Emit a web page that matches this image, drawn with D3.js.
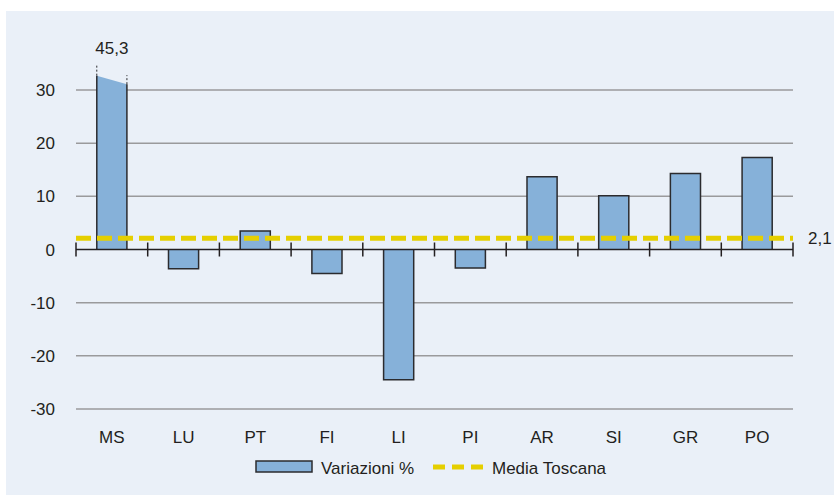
<!DOCTYPE html>
<html>
<head>
  <meta charset="utf-8">
  <script src="https://d3js.org/d3.v7.min.js"></script>
  <style>
    body { margin: 0; background: #fff; }
    text { font-family: 'Liberation Sans Narrow', 'Liberation Sans', Arial, sans-serif; fill: #231f20; }
  </style>
</head>
<body>
  <div class="chart"></div>
  <script>
    var categories = ["MS", "LU", "PT", "FI", "LI", "PI", "AR", "SI", "GR", "PO"];
    var values = [45.3, -3.6, 3.5, -4.5, -24.5, -3.5, 13.7, 10.1, 14.3, 17.3];
    var media = 2.1;
    var yTicks = [-30, -20, -10, 0, 10, 20, 30];
    // the MS bar is cut off, these are where the slanted top sits
    var breakTop = [32.7, 31.1];

    var W = 834, H = 495;
    var margin = {top: 90, right: 41, bottom: 86, left: 76};
    var width = W - margin.left - margin.right;

    var svg = d3.select(".chart").append("svg")
      .attr("width", W).attr("height", H);

    // panel
    svg.append("rect")
      .attr("x", 6).attr("y", 11)
      .attr("width", W - 6).attr("height", H - 11)
      .attr("fill", "#eaf0f8");

    var x = d3.scaleBand().domain(categories).range([0, width]).paddingInner(0.58).paddingOuter(0.29);
    var xb = d3.scaleBand().domain(categories).range([0, width]);
    var y = d3.scaleLinear().domain([-30, 30]).range([409, 90]);

    var g = svg.append("g").attr("transform", "translate(" + margin.left + ",0)");

    // grid lines
    g.selectAll(".grid")
      .data(yTicks.filter(function(d) { return d !== 0; }))
      .enter().append("line")
        .attr("x1", 0).attr("x2", width)
        .attr("y1", function(d) { return y(d); })
        .attr("y2", function(d) { return y(d); })
        .attr("stroke", "#9a9a9c").attr("stroke-width", 1.5);

    // y labels
    g.selectAll(".ylab")
      .data(yTicks)
      .enter().append("text")
        .attr("x", -21)
        .attr("y", function(d) { return y(d); })
        .attr("dy", "0.36em")
        .attr("text-anchor", "end")
        .style("font-size", "17px")
        .text(function(d) { return d; });

    // bars
    var bar = g.selectAll(".bar")
      .data(values)
      .enter().append("path")
        .attr("fill", "#86b1d9")
        .attr("stroke", "#2b2b2e")
        .attr("stroke-width", 1.5)
        .attr("d", function(d, i) {
          var x0 = x(categories[i]), x1 = x0 + x.bandwidth();
          if (d > breakTop[0]) {
            return "M" + x0 + "," + y(0) + "V" + y(breakTop[0]) +
              "M" + x1 + "," + y(breakTop[1]) + "V" + y(0);
          }
          return "M" + x0 + "," + y(0) + "V" + y(d) + "H" + x1 + "V" + y(0);
        });

    // fill of the broken bar (slanted top, no top stroke)
    values.forEach(function(d, i) {
      if (d > breakTop[0]) {
        var x0 = x(categories[i]), x1 = x0 + x.bandwidth();
        g.insert("path", "path")
          .attr("fill", "#86b1d9")
          .attr("d", "M" + x0 + "," + y(0) + "V" + y(breakTop[0]) + "L" + x1 + "," + y(breakTop[1]) + "V" + y(0) + "Z");
        g.append("line")
          .attr("x1", x0).attr("x2", x0)
          .attr("y1", y(breakTop[0])).attr("y2", y(breakTop[0]) - 11)
          .attr("stroke", "#2b2b2e").attr("stroke-dasharray", "2,2");
        g.append("line")
          .attr("x1", x1).attr("x2", x1)
          .attr("y1", y(breakTop[1])).attr("y2", y(breakTop[1]) - 9)
          .attr("stroke", "#2b2b2e").attr("stroke-dasharray", "2,2");
        g.append("text")
          .attr("x", x0 + x.bandwidth() / 2)
          .attr("y", 54)
          .attr("text-anchor", "middle")
          .style("font-size", "17px")
          .text(String(d).replace(".", ","));
      }
    });

    // zero axis with ticks
    g.append("line")
      .attr("x1", 0).attr("x2", width)
      .attr("y1", y(0)).attr("y2", y(0))
      .attr("stroke", "#231f20").attr("stroke-width", 1.5);
    var tickPos = categories.map(function(c) { return xb(c); }).concat([width]);
    g.selectAll(".tick")
      .data(tickPos)
      .enter().append("line")
        .attr("x1", function(d) { return d; })
        .attr("x2", function(d) { return d; })
        .attr("y1", y(0) - 7).attr("y2", y(0) + 7)
        .attr("stroke", "#231f20").attr("stroke-width", 1.5);

    // media line
    g.append("line")
      .attr("x1", 0).attr("x2", width)
      .attr("y1", y(media)).attr("y2", y(media))
      .attr("stroke", "#e5cf00").attr("stroke-width", 5)
      .attr("stroke-dasharray", "15,6");
    g.append("text")
      .attr("x", width + 15)
      .attr("y", y(media))
      .attr("dy", "0.36em")
      .style("font-size", "17px")
      .text(String(media).replace(".", ","));

    // category labels
    g.selectAll(".xlab")
      .data(categories)
      .enter().append("text")
        .attr("x", function(d) { return xb(d) + xb.bandwidth() / 2; })
        .attr("y", 443)
        .attr("text-anchor", "middle")
        .style("font-size", "17px")
        .text(function(d) { return d; });

    // legend
    var leg = svg.append("g");
    leg.append("rect")
      .attr("x", 256).attr("y", 461).attr("width", 56).attr("height", 11)
      .attr("fill", "#86b1d9").attr("stroke", "#2b2b2e").attr("stroke-width", 1.5);
    leg.append("text").attr("x", 321).attr("y", 474).style("font-size", "17px").text("Variazioni %");
    leg.append("line")
      .attr("x1", 433).attr("x2", 483).attr("y1", 467).attr("y2", 467)
      .attr("stroke", "#e5cf00").attr("stroke-width", 5)
      .attr("stroke-dasharray", "12,7");
    leg.append("text").attr("x", 492).attr("y", 474).style("font-size", "17px").text("Media Toscana");
  </script>
</body>
</html>
